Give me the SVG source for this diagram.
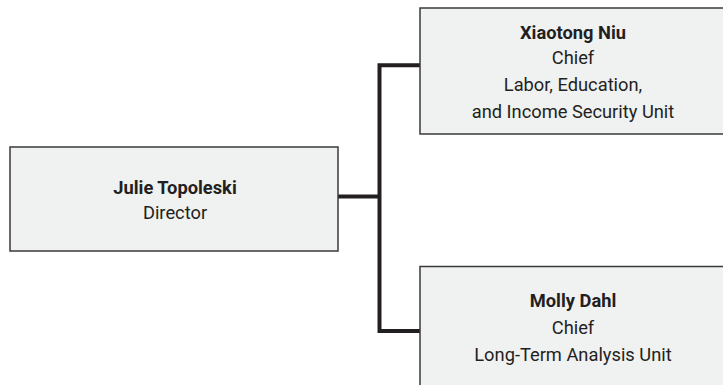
<svg xmlns="http://www.w3.org/2000/svg" width="723" height="385" viewBox="0 0 723 385">
<style>
.box{fill:#f0f1f1;stroke:#3a3a3a;stroke-width:1.5}
.t{font-family:Roboto,"Liberation Sans",sans-serif;font-size:18.3px;fill:#231f20;text-anchor:middle}
.b{font-weight:bold}
.c{fill:none;stroke:#231f20;stroke-width:4}
</style>
<rect width="723" height="385" fill="#fff"/>
<g id="connectors">
<path class="c" d="M338 196.5H379.5M379.5 65.3V331M377.5 65.3H420M377.5 331H420"/>
</g>
<g id="director">
<rect class="box" x="10" y="147" width="328" height="104"/>
<text class="t b" x="175" y="194">Julie Topoleski</text>
<text class="t" x="175" y="219">Director</text>
</g>
<g id="niu">
<rect class="box" x="420" y="8" width="305" height="126"/>
<text class="t b" x="573" y="39">Xiaotong Niu</text>
<text class="t" x="573" y="64">Chief</text>
<text class="t" x="573" y="91">Labor, Education,</text>
<text class="t" x="573" y="118">and Income Security Unit</text>
</g>
<g id="dahl">
<rect class="box" x="420" y="266.5" width="305" height="130"/>
<text class="t b" x="573" y="307">Molly Dahl</text>
<text class="t" x="573" y="334">Chief</text>
<text class="t" x="573" y="361">Long-Term Analysis Unit</text>
</g>
</svg>
